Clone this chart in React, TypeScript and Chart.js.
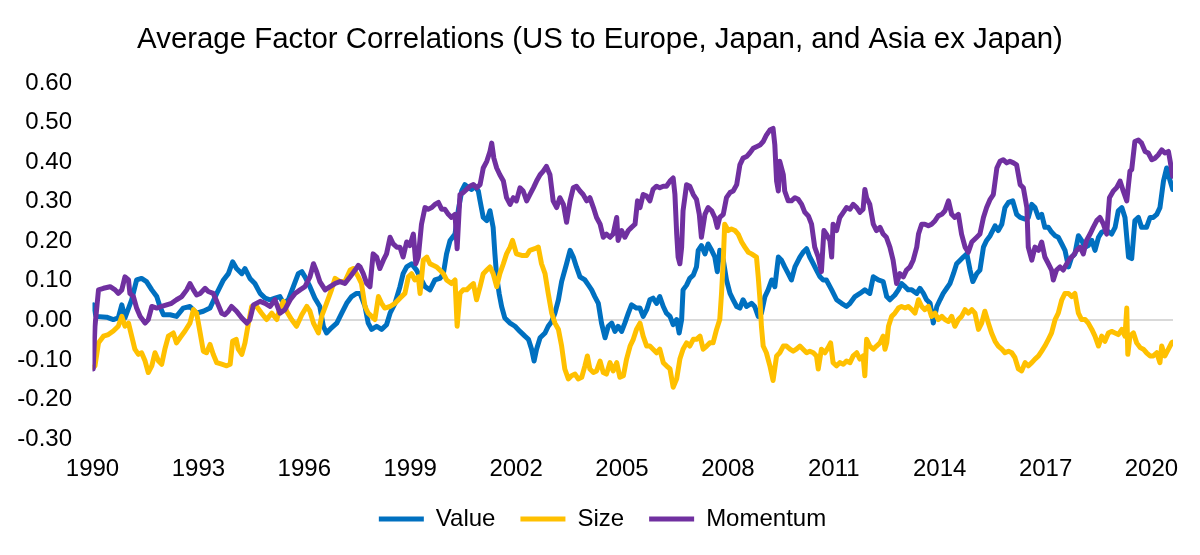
import React, { useEffect, useRef } from "react";
import { Chart, registerables } from "chart.js";

Chart.register(...registerables);

const FONT = "'Liberation Sans', Arial, sans-serif";
const TITLE = "Average Factor Correlations (US to Europe, Japan, and Asia ex Japan)";
const SERIES_NAMES = ["Value", "Size", "Momentum"];
const SERIES_COLORS = ["#0070C0", "#FFC000", "#7030A0"];
const X_TICK_YEARS = [1990, 1993, 1996, 1999, 2002, 2005, 2008, 2011, 2014, 2017, 2020];
const Y_TICKS = [-0.3, -0.2, -0.1, 0, 0.1, 0.2, 0.3, 0.4, 0.5, 0.6];
const X_MIN = 1990;
const X_MAX = 2020.61;

// [decimal year, correlation]
const valueSeries: [number, number][] = [
  [1990.02, 0.039], [1990.10, 0.010], [1990.40, 0.008], [1990.59, 0.002], [1990.73, 0.006], [1990.83, 0.039],
  [1990.92, 0.006], [1991.11, 0.052], [1991.25, 0.102], [1991.39, 0.106], [1991.53, 0.098], [1991.68, 0.077],
  [1991.82, 0.060], [1991.91, 0.035], [1992.01, 0.014], [1992.20, 0.014], [1992.38, 0.010], [1992.57, 0.031],
  [1992.76, 0.035], [1992.95, 0.018], [1993.14, 0.023], [1993.33, 0.031], [1993.52, 0.068], [1993.71, 0.102],
  [1993.85, 0.118], [1993.97, 0.148], [1994.08, 0.131], [1994.23, 0.118], [1994.32, 0.131], [1994.46, 0.106],
  [1994.60, 0.093], [1994.75, 0.068], [1994.89, 0.056], [1995.03, 0.052], [1995.17, 0.056], [1995.31, 0.060],
  [1995.41, 0.043], [1995.55, 0.052], [1995.69, 0.085], [1995.83, 0.118], [1995.93, 0.123], [1996.02, 0.110],
  [1996.16, 0.085], [1996.30, 0.056], [1996.44, 0.035], [1996.54, -0.015], [1996.63, -0.032], [1996.77, -0.019],
  [1996.92, -0.007], [1997.06, 0.018], [1997.20, 0.043], [1997.34, 0.060], [1997.48, 0.068], [1997.58, 0.068],
  [1997.72, 0.035], [1997.81, -0.007], [1997.91, -0.023], [1998.05, -0.015], [1998.19, -0.023], [1998.33, -0.011],
  [1998.43, 0.018], [1998.57, 0.043], [1998.71, 0.085], [1998.80, 0.118], [1998.90, 0.135], [1999.04, 0.143],
  [1999.18, 0.127], [1999.32, 0.102], [1999.42, 0.085], [1999.56, 0.077], [1999.70, 0.102], [1999.84, 0.106],
  [1999.94, 0.118], [2000.03, 0.168], [2000.13, 0.202], [2000.27, 0.218], [2000.36, 0.277], [2000.46, 0.327],
  [2000.55, 0.343], [2000.65, 0.335], [2000.74, 0.331], [2000.83, 0.339], [2000.93, 0.327], [2000.98, 0.302],
  [2001.07, 0.260], [2001.17, 0.252], [2001.26, 0.277], [2001.35, 0.235], [2001.40, 0.168], [2001.45, 0.110],
  [2001.52, 0.068], [2001.59, 0.035], [2001.68, 0.006], [2001.83, -0.007], [2001.97, -0.015], [2002.11, -0.028],
  [2002.25, -0.040], [2002.35, -0.048], [2002.44, -0.073], [2002.51, -0.103], [2002.58, -0.073], [2002.68, -0.044],
  [2002.82, -0.032], [2002.91, -0.015], [2003.01, -0.003], [2003.10, 0.018], [2003.20, 0.052], [2003.29, 0.098],
  [2003.43, 0.143], [2003.53, 0.177], [2003.62, 0.160], [2003.71, 0.135], [2003.81, 0.110], [2003.95, 0.102],
  [2004.05, 0.089], [2004.14, 0.077], [2004.23, 0.060], [2004.33, 0.043], [2004.42, -0.007], [2004.52, -0.044],
  [2004.61, -0.015], [2004.71, -0.007], [2004.80, -0.028], [2004.89, -0.015], [2004.99, -0.028], [2005.08, -0.007],
  [2005.18, 0.018], [2005.27, 0.039], [2005.41, 0.031], [2005.51, 0.031], [2005.60, 0.010], [2005.70, 0.027],
  [2005.79, 0.052], [2005.88, 0.056], [2005.98, 0.043], [2006.07, 0.060], [2006.17, 0.035], [2006.26, 0.018],
  [2006.36, 0.010], [2006.45, -0.011], [2006.55, 0.002], [2006.62, -0.032], [2006.69, 0.002], [2006.73, 0.077],
  [2006.83, 0.089], [2006.92, 0.106], [2007.02, 0.114], [2007.11, 0.135], [2007.16, 0.177], [2007.25, 0.189],
  [2007.35, 0.168], [2007.44, 0.193], [2007.54, 0.177], [2007.63, 0.160], [2007.70, 0.123], [2007.77, 0.177],
  [2007.87, 0.152], [2007.96, 0.102], [2008.06, 0.068], [2008.15, 0.052], [2008.25, 0.035], [2008.34, 0.031],
  [2008.43, 0.052], [2008.53, 0.035], [2008.67, 0.043], [2008.76, 0.035], [2008.86, 0.010], [2008.95, 0.018],
  [2009.05, 0.060], [2009.14, 0.077], [2009.24, 0.102], [2009.33, 0.085], [2009.43, 0.160], [2009.52, 0.152],
  [2009.61, 0.135], [2009.71, 0.118], [2009.80, 0.102], [2009.90, 0.135], [2010.04, 0.160], [2010.13, 0.172],
  [2010.23, 0.181], [2010.32, 0.160], [2010.42, 0.143], [2010.51, 0.127], [2010.61, 0.110], [2010.70, 0.102],
  [2010.79, 0.102], [2010.94, 0.077], [2011.08, 0.052], [2011.22, 0.043], [2011.36, 0.035], [2011.46, 0.043],
  [2011.60, 0.060], [2011.74, 0.068], [2011.88, 0.077], [2012.02, 0.068], [2012.12, 0.110], [2012.26, 0.102],
  [2012.40, 0.098], [2012.50, 0.060], [2012.59, 0.052], [2012.73, 0.064], [2012.83, 0.077], [2012.92, 0.093],
  [2013.02, 0.085], [2013.11, 0.077], [2013.21, 0.077], [2013.35, 0.068], [2013.44, 0.081], [2013.54, 0.068],
  [2013.63, 0.052], [2013.73, 0.043], [2013.82, -0.007], [2013.92, 0.035], [2014.01, 0.052], [2014.10, 0.068],
  [2014.20, 0.081], [2014.29, 0.093], [2014.39, 0.118], [2014.48, 0.143], [2014.58, 0.152], [2014.67, 0.160],
  [2014.77, 0.168], [2014.86, 0.127], [2014.94, 0.098], [2015.05, 0.118], [2015.14, 0.127], [2015.24, 0.185],
  [2015.33, 0.202], [2015.43, 0.214], [2015.57, 0.239], [2015.66, 0.227], [2015.76, 0.243], [2015.85, 0.285],
  [2015.95, 0.298], [2016.07, 0.302], [2016.18, 0.268], [2016.28, 0.260], [2016.42, 0.256], [2016.51, 0.260],
  [2016.61, 0.293], [2016.70, 0.285], [2016.80, 0.260], [2016.89, 0.268], [2016.98, 0.235], [2017.08, 0.235],
  [2017.17, 0.223], [2017.27, 0.214], [2017.36, 0.210], [2017.46, 0.193], [2017.55, 0.177], [2017.65, 0.135],
  [2017.74, 0.160], [2017.83, 0.168], [2017.93, 0.214], [2018.02, 0.202], [2018.12, 0.185], [2018.21, 0.189],
  [2018.31, 0.202], [2018.40, 0.177], [2018.50, 0.210], [2018.59, 0.223], [2018.73, 0.227], [2018.87, 0.218],
  [2018.97, 0.235], [2019.06, 0.277], [2019.16, 0.285], [2019.25, 0.260], [2019.35, 0.160], [2019.44, 0.156],
  [2019.53, 0.252], [2019.63, 0.260], [2019.72, 0.235], [2019.86, 0.235], [2019.96, 0.260], [2020.05, 0.260],
  [2020.15, 0.268], [2020.24, 0.285], [2020.34, 0.352], [2020.43, 0.385], [2020.53, 0.352], [2020.60, 0.331],
];

const sizeSeries: [number, number][] = [
  [1990.02, -0.119], [1990.07, -0.115], [1990.17, -0.057], [1990.31, -0.040], [1990.45, -0.036], [1990.59, -0.027],
  [1990.73, -0.015], [1990.83, 0.010], [1990.92, -0.015], [1991.02, -0.007], [1991.11, -0.040], [1991.20, -0.073],
  [1991.30, -0.086], [1991.39, -0.082], [1991.49, -0.103], [1991.58, -0.132], [1991.68, -0.115], [1991.77, -0.082],
  [1991.87, -0.103], [1991.96, -0.111], [1992.05, -0.073], [1992.15, -0.040], [1992.29, -0.032], [1992.38, -0.057],
  [1992.48, -0.044], [1992.62, -0.027], [1992.76, -0.007], [1992.86, 0.027], [1992.95, 0.018], [1993.05, -0.032],
  [1993.14, -0.078], [1993.23, -0.082], [1993.33, -0.061], [1993.42, -0.086], [1993.52, -0.107], [1993.66, -0.111],
  [1993.80, -0.115], [1993.90, -0.111], [1993.97, -0.053], [1994.07, -0.048], [1994.13, -0.073], [1994.23, -0.086],
  [1994.32, -0.057], [1994.41, -0.011], [1994.51, 0.035], [1994.65, 0.035], [1994.79, 0.018], [1994.93, 0.002],
  [1995.08, 0.018], [1995.22, 0.002], [1995.31, 0.031], [1995.41, 0.048], [1995.50, 0.023], [1995.64, 0.002],
  [1995.78, -0.015], [1995.93, 0.014], [1996.07, 0.035], [1996.16, 0.023], [1996.26, -0.007], [1996.40, -0.032],
  [1996.49, 0.010], [1996.63, 0.043], [1996.77, 0.077], [1996.87, 0.106], [1997.01, 0.098], [1997.15, 0.098],
  [1997.30, 0.127], [1997.39, 0.131], [1997.53, 0.110], [1997.62, 0.093], [1997.72, 0.035], [1997.81, 0.018],
  [1997.91, 0.010], [1998.00, 0.002], [1998.10, 0.060], [1998.19, 0.043], [1998.28, 0.031], [1998.43, 0.035],
  [1998.57, 0.043], [1998.71, 0.056], [1998.85, 0.068], [1998.95, 0.110], [1999.04, 0.118], [1999.13, 0.102],
  [1999.23, 0.110], [1999.28, 0.068], [1999.37, 0.152], [1999.47, 0.160], [1999.56, 0.143], [1999.65, 0.139],
  [1999.75, 0.135], [1999.84, 0.127], [1999.94, 0.118], [2000.03, 0.102], [2000.17, 0.093], [2000.27, 0.102],
  [2000.33, -0.015], [2000.41, 0.068], [2000.50, 0.077], [2000.60, 0.077], [2000.69, 0.085], [2000.79, 0.093],
  [2000.88, 0.052], [2000.98, 0.085], [2001.07, 0.118], [2001.17, 0.127], [2001.26, 0.135], [2001.35, 0.118],
  [2001.45, 0.085], [2001.54, 0.118], [2001.64, 0.143], [2001.73, 0.168], [2001.83, 0.185], [2001.90, 0.202],
  [2002.01, 0.168], [2002.16, 0.164], [2002.30, 0.164], [2002.39, 0.177], [2002.53, 0.181], [2002.63, 0.185],
  [2002.72, 0.143], [2002.82, 0.118], [2002.91, 0.068], [2003.01, 0.018], [2003.10, -0.007], [2003.20, -0.023],
  [2003.29, -0.065], [2003.38, -0.123], [2003.48, -0.148], [2003.57, -0.140], [2003.67, -0.136], [2003.76, -0.148],
  [2003.86, -0.144], [2003.95, -0.115], [2004.02, -0.090], [2004.09, -0.123], [2004.19, -0.132], [2004.28, -0.128],
  [2004.38, -0.103], [2004.47, -0.132], [2004.56, -0.136], [2004.66, -0.107], [2004.75, -0.128], [2004.85, -0.107],
  [2004.94, -0.144], [2005.04, -0.140], [2005.13, -0.098], [2005.23, -0.065], [2005.32, -0.048], [2005.41, -0.023],
  [2005.51, -0.007], [2005.60, -0.040], [2005.70, -0.065], [2005.79, -0.065], [2005.88, -0.073], [2005.98, -0.082],
  [2006.07, -0.073], [2006.17, -0.107], [2006.26, -0.115], [2006.36, -0.123], [2006.45, -0.169], [2006.55, -0.148],
  [2006.64, -0.098], [2006.73, -0.073], [2006.83, -0.057], [2006.92, -0.065], [2007.02, -0.048], [2007.11, -0.048],
  [2007.21, -0.040], [2007.30, -0.073], [2007.40, -0.065], [2007.49, -0.057], [2007.58, -0.057], [2007.68, -0.023],
  [2007.77, 0.002], [2007.82, 0.068], [2007.87, 0.152], [2007.91, 0.243], [2008.01, 0.227], [2008.10, 0.231],
  [2008.20, 0.227], [2008.29, 0.218], [2008.39, 0.198], [2008.48, 0.185], [2008.58, 0.172], [2008.67, 0.168],
  [2008.81, 0.160], [2008.86, 0.110], [2008.91, 0.052], [2008.95, -0.015], [2009.00, -0.065], [2009.09, -0.082],
  [2009.19, -0.115], [2009.28, -0.152], [2009.38, -0.090], [2009.47, -0.082], [2009.57, -0.065], [2009.66, -0.065],
  [2009.76, -0.073], [2009.85, -0.078], [2009.94, -0.073], [2010.04, -0.065], [2010.13, -0.073], [2010.23, -0.082],
  [2010.32, -0.078], [2010.42, -0.082], [2010.51, -0.090], [2010.56, -0.123], [2010.65, -0.073], [2010.75, -0.082],
  [2010.84, -0.069], [2010.91, -0.057], [2010.98, -0.107], [2011.08, -0.115], [2011.17, -0.107], [2011.27, -0.111],
  [2011.36, -0.103], [2011.46, -0.107], [2011.55, -0.090], [2011.65, -0.082], [2011.74, -0.098], [2011.83, -0.090],
  [2011.88, -0.140], [2011.93, -0.048], [2012.02, -0.065], [2012.12, -0.073], [2012.21, -0.065], [2012.31, -0.057],
  [2012.40, -0.040], [2012.45, -0.073], [2012.50, -0.057], [2012.55, -0.015], [2012.64, 0.010], [2012.73, 0.018],
  [2012.83, 0.031], [2012.92, 0.035], [2013.02, 0.031], [2013.11, 0.035], [2013.21, 0.027], [2013.30, 0.018],
  [2013.40, 0.052], [2013.49, 0.035], [2013.58, 0.027], [2013.68, 0.035], [2013.77, 0.010], [2013.87, 0.018],
  [2013.96, 0.002], [2014.06, 0.010], [2014.15, 0.002], [2014.25, -0.003], [2014.34, 0.010], [2014.43, -0.015],
  [2014.53, 0.002], [2014.62, 0.010], [2014.72, 0.027], [2014.81, 0.018], [2014.91, 0.027], [2015.00, 0.018],
  [2015.10, -0.023], [2015.19, -0.007], [2015.28, 0.023], [2015.38, -0.007], [2015.47, -0.032], [2015.57, -0.053],
  [2015.66, -0.065], [2015.76, -0.073], [2015.85, -0.082], [2015.95, -0.078], [2016.04, -0.082], [2016.13, -0.094],
  [2016.23, -0.123], [2016.32, -0.128], [2016.42, -0.107], [2016.51, -0.115], [2016.61, -0.107], [2016.70, -0.098],
  [2016.80, -0.090], [2016.89, -0.078], [2016.98, -0.065], [2017.08, -0.048], [2017.17, -0.032], [2017.27, 0.002],
  [2017.36, 0.018], [2017.46, 0.052], [2017.55, 0.068], [2017.65, 0.068], [2017.74, 0.060], [2017.83, 0.068],
  [2017.93, 0.018], [2018.02, 0.002], [2018.12, 0.002], [2018.21, -0.007], [2018.31, -0.023], [2018.40, -0.040],
  [2018.50, -0.065], [2018.59, -0.040], [2018.68, -0.053], [2018.78, -0.032], [2018.87, -0.028], [2018.97, -0.032],
  [2019.06, -0.036], [2019.16, -0.023], [2019.25, -0.040], [2019.30, 0.031], [2019.33, -0.086], [2019.39, -0.040],
  [2019.49, -0.032], [2019.58, -0.057], [2019.68, -0.069], [2019.77, -0.073], [2019.86, -0.082], [2019.96, -0.090],
  [2020.05, -0.090], [2020.15, -0.082], [2020.24, -0.107], [2020.29, -0.065], [2020.38, -0.090], [2020.48, -0.073],
  [2020.57, -0.057], [2020.60, -0.055],
];

const momentumSeries: [number, number][] = [
  [1990.02, -0.123], [1990.07, -0.015], [1990.17, 0.077], [1990.31, 0.081], [1990.50, 0.085], [1990.64, 0.077],
  [1990.73, 0.068], [1990.83, 0.077], [1990.92, 0.110], [1991.02, 0.102], [1991.06, 0.068], [1991.16, 0.060],
  [1991.25, 0.031], [1991.35, 0.010], [1991.49, -0.007], [1991.58, 0.002], [1991.68, 0.035], [1991.82, 0.031],
  [1991.96, 0.035], [1992.10, 0.039], [1992.24, 0.043], [1992.38, 0.052], [1992.53, 0.060], [1992.67, 0.077],
  [1992.76, 0.093], [1992.86, 0.077], [1992.95, 0.064], [1993.05, 0.068], [1993.19, 0.081], [1993.28, 0.073],
  [1993.42, 0.068], [1993.52, 0.048], [1993.66, 0.018], [1993.75, 0.014], [1993.85, 0.023], [1993.94, 0.035],
  [1994.08, 0.023], [1994.23, 0.006], [1994.37, -0.007], [1994.46, 0.002], [1994.56, 0.039], [1994.75, 0.048],
  [1994.89, 0.043], [1995.03, 0.035], [1995.17, 0.052], [1995.31, 0.018], [1995.45, 0.027], [1995.60, 0.052],
  [1995.74, 0.068], [1995.88, 0.077], [1996.02, 0.085], [1996.16, 0.110], [1996.26, 0.143], [1996.35, 0.123],
  [1996.44, 0.098], [1996.59, 0.077], [1996.73, 0.085], [1996.87, 0.093], [1997.01, 0.098], [1997.15, 0.093],
  [1997.30, 0.110], [1997.44, 0.127], [1997.53, 0.139], [1997.58, 0.135], [1997.67, 0.118], [1997.77, 0.093],
  [1997.86, 0.085], [1997.95, 0.168], [1998.05, 0.160], [1998.14, 0.131], [1998.24, 0.152], [1998.33, 0.168],
  [1998.43, 0.210], [1998.52, 0.193], [1998.62, 0.185], [1998.71, 0.185], [1998.80, 0.160], [1998.90, 0.198],
  [1998.99, 0.189], [1999.09, 0.218], [1999.16, 0.143], [1999.23, 0.160], [1999.32, 0.243], [1999.42, 0.285],
  [1999.51, 0.281], [1999.61, 0.285], [1999.70, 0.293], [1999.80, 0.298], [1999.89, 0.281], [1999.98, 0.281],
  [2000.08, 0.268], [2000.17, 0.260], [2000.27, 0.268], [2000.33, 0.181], [2000.41, 0.318], [2000.50, 0.323],
  [2000.60, 0.331], [2000.69, 0.339], [2000.79, 0.343], [2000.88, 0.335], [2000.98, 0.343], [2001.07, 0.385],
  [2001.17, 0.402], [2001.26, 0.427], [2001.31, 0.448], [2001.37, 0.410], [2001.45, 0.385], [2001.54, 0.368],
  [2001.64, 0.352], [2001.73, 0.310], [2001.83, 0.293], [2001.92, 0.310], [2002.01, 0.302], [2002.11, 0.335],
  [2002.20, 0.327], [2002.30, 0.302], [2002.39, 0.318], [2002.49, 0.335], [2002.58, 0.352], [2002.68, 0.368],
  [2002.77, 0.377], [2002.86, 0.389], [2002.96, 0.368], [2003.05, 0.302], [2003.15, 0.285], [2003.24, 0.310],
  [2003.34, 0.293], [2003.43, 0.248], [2003.53, 0.302], [2003.62, 0.335], [2003.71, 0.339], [2003.81, 0.327],
  [2003.90, 0.318], [2004.00, 0.302], [2004.09, 0.310], [2004.19, 0.285], [2004.28, 0.260], [2004.38, 0.243],
  [2004.47, 0.210], [2004.56, 0.218], [2004.66, 0.210], [2004.75, 0.218], [2004.85, 0.260], [2004.89, 0.202],
  [2004.99, 0.227], [2005.08, 0.210], [2005.18, 0.227], [2005.27, 0.235], [2005.37, 0.243], [2005.44, 0.302],
  [2005.51, 0.285], [2005.60, 0.318], [2005.70, 0.314], [2005.79, 0.302], [2005.88, 0.331], [2005.98, 0.339],
  [2006.07, 0.335], [2006.17, 0.339], [2006.26, 0.339], [2006.36, 0.352], [2006.45, 0.360], [2006.50, 0.318],
  [2006.55, 0.218], [2006.59, 0.160], [2006.64, 0.143], [2006.69, 0.185], [2006.73, 0.277], [2006.83, 0.343],
  [2006.92, 0.339], [2007.02, 0.318], [2007.11, 0.306], [2007.19, 0.268], [2007.25, 0.210], [2007.35, 0.268],
  [2007.44, 0.285], [2007.54, 0.277], [2007.63, 0.260], [2007.70, 0.235], [2007.77, 0.260], [2007.87, 0.268],
  [2007.96, 0.310], [2008.06, 0.323], [2008.15, 0.327], [2008.25, 0.343], [2008.34, 0.393], [2008.43, 0.410],
  [2008.53, 0.414], [2008.62, 0.423], [2008.72, 0.435], [2008.81, 0.439], [2008.91, 0.443], [2009.00, 0.452],
  [2009.09, 0.468], [2009.19, 0.481], [2009.28, 0.485], [2009.33, 0.443], [2009.38, 0.352], [2009.43, 0.327],
  [2009.47, 0.402], [2009.57, 0.368], [2009.61, 0.327], [2009.71, 0.302], [2009.80, 0.302], [2009.90, 0.310],
  [2009.99, 0.306], [2010.09, 0.293], [2010.18, 0.273], [2010.28, 0.264], [2010.37, 0.243], [2010.46, 0.185],
  [2010.56, 0.160], [2010.65, 0.123], [2010.72, 0.227], [2010.79, 0.218], [2010.89, 0.202], [2010.94, 0.160],
  [2010.98, 0.243], [2011.08, 0.227], [2011.17, 0.260], [2011.27, 0.273], [2011.36, 0.285], [2011.46, 0.281],
  [2011.55, 0.293], [2011.65, 0.285], [2011.74, 0.273], [2011.83, 0.281], [2011.88, 0.331], [2011.93, 0.310],
  [2012.02, 0.293], [2012.12, 0.243], [2012.21, 0.227], [2012.31, 0.235], [2012.40, 0.218], [2012.49, 0.210],
  [2012.59, 0.185], [2012.68, 0.152], [2012.78, 0.093], [2012.87, 0.118], [2012.97, 0.110], [2013.06, 0.127],
  [2013.16, 0.135], [2013.25, 0.152], [2013.35, 0.185], [2013.40, 0.218], [2013.49, 0.243], [2013.58, 0.243],
  [2013.68, 0.239], [2013.77, 0.243], [2013.87, 0.252], [2013.96, 0.264], [2014.06, 0.268], [2014.15, 0.277],
  [2014.25, 0.302], [2014.34, 0.268], [2014.43, 0.260], [2014.53, 0.268], [2014.62, 0.218], [2014.72, 0.185],
  [2014.81, 0.172], [2014.91, 0.198], [2015.05, 0.210], [2015.14, 0.218], [2015.24, 0.260], [2015.33, 0.285],
  [2015.43, 0.306], [2015.52, 0.318], [2015.62, 0.385], [2015.71, 0.402], [2015.80, 0.406], [2015.90, 0.398],
  [2015.99, 0.402], [2016.09, 0.398], [2016.18, 0.393], [2016.28, 0.343], [2016.37, 0.335], [2016.47, 0.285],
  [2016.51, 0.185], [2016.61, 0.152], [2016.70, 0.185], [2016.80, 0.177], [2016.89, 0.198], [2016.98, 0.160],
  [2017.08, 0.143], [2017.17, 0.127], [2017.22, 0.102], [2017.31, 0.127], [2017.41, 0.135], [2017.50, 0.127],
  [2017.60, 0.143], [2017.69, 0.156], [2017.79, 0.164], [2017.88, 0.177], [2017.98, 0.185], [2018.07, 0.168],
  [2018.16, 0.202], [2018.26, 0.218], [2018.35, 0.235], [2018.45, 0.252], [2018.54, 0.260], [2018.64, 0.243],
  [2018.73, 0.218], [2018.81, 0.310], [2018.92, 0.327], [2019.01, 0.335], [2019.11, 0.352], [2019.20, 0.327],
  [2019.30, 0.302], [2019.39, 0.377], [2019.44, 0.381], [2019.53, 0.452], [2019.63, 0.456], [2019.72, 0.448],
  [2019.82, 0.427], [2019.91, 0.423], [2020.01, 0.406], [2020.10, 0.410], [2020.19, 0.418], [2020.29, 0.431],
  [2020.38, 0.423], [2020.48, 0.427], [2020.53, 0.402], [2020.60, 0.364],
];

const SERIES_DATA = [valueSeries, sizeSeries, momentumSeries];

// Re-centres the title and the legend row on the page, as in the reference
// (the y-axis box is wider than the right padding, so Chart.js centres them off to the left).
const recentreBoxes = {
  id: "recentreBoxes",
  afterLayout(chart: any) {
    if (chart.legend) {
      chart.legend.left += 22;
    }
    if (chart.titleBlock) {
      chart.titleBlock.left += 17;
    }
  },
};

export default function App() {
  const canvasRef = useRef<HTMLCanvasElement>(null);

  useEffect(() => {
    const canvas = canvasRef.current;
    if (!canvas) return;
    const tickFont = { family: FONT, size: 24 };

    const datasets = SERIES_NAMES.map((name, i) => ({
      label: name,
      data: SERIES_DATA[i].map(([x, y]) => ({ x, y })),
      borderColor: SERIES_COLORS[i],
      backgroundColor: SERIES_COLORS[i],
      borderWidth: 5,
      pointRadius: 0,
      pointHoverRadius: 0,
      tension: 0,
      fill: false,
      borderCapStyle: "round" as const,
      borderJoinStyle: "round" as const,
      order: SERIES_NAMES.length - i,
    }));

    const chart = new Chart(canvas, {
      type: "line",
      data: { datasets },
      plugins: [recentreBoxes],
      options: {
        animation: false,
        responsive: false,
        devicePixelRatio: 1,
        layout: { padding: { left: 10, right: 27, top: 0, bottom: 14 } },
        plugins: {
          title: {
            display: true,
            text: TITLE,
            color: "#000000",
            font: { family: FONT, size: 29.4, weight: "normal" },
            padding: { top: 22, bottom: 25.7 },
          },
          legend: {
            position: "bottom",
            labels: {
              usePointStyle: true,
              pointStyle: "line",
              pointStyleWidth: 45,
              boxHeight: 24,
              color: "#000000",
              font: { family: FONT, size: 24 },
              padding: 25,
              sort: (a: any, b: any) => a.datasetIndex - b.datasetIndex,
            },
          },
          tooltip: { enabled: false },
        },
        scales: {
          x: {
            type: "linear",
            min: X_MIN,
            max: X_MAX,
            afterBuildTicks: (scale: any) => {
              scale.ticks = X_TICK_YEARS.map((v) => ({ value: v }));
            },
            afterFit: (scale: any) => {
              scale.height = 43;
            },
            grid: { display: false, drawTicks: false },
            border: { display: false },
            ticks: {
              autoSkip: false,
              maxRotation: 0,
              minRotation: 0,
              padding: 16,
              color: "#000000",
              font: tickFont,
              callback: (v: any) => String(v),
            },
          },
          y: {
            type: "linear",
            min: Y_TICKS[0],
            max: Y_TICKS[Y_TICKS.length - 1],
            afterBuildTicks: (scale: any) => {
              scale.ticks = Y_TICKS.map((v) => ({ value: v }));
            },
            afterFit: (scale: any) => {
              scale.width = 82.5;
            },
            grid: {
              drawTicks: false,
              lineWidth: 2,
              color: (ctx: any) =>
                ctx.tick && Math.abs(ctx.tick.value) < 1e-9 ? "#D9D9D9" : "rgba(0,0,0,0)",
            },
            border: { display: false },
            ticks: {
              padding: 20.5,
              color: "#000000",
              font: tickFont,
              callback: (v: any) => (Math.abs(Number(v)) < 1e-9 ? "0.00" : Number(v).toFixed(2)),
            },
          },
        },
      },
    });

    return () => chart.destroy();
  }, []);

  return (
    <div style={{ position: "absolute", left: 0, top: 0, width: 1200, height: 555, background: "#ffffff" }}>
      <canvas ref={canvasRef} width={1200} height={555} style={{ display: "block", width: 1200, height: 555 }} />
    </div>
  );
}
